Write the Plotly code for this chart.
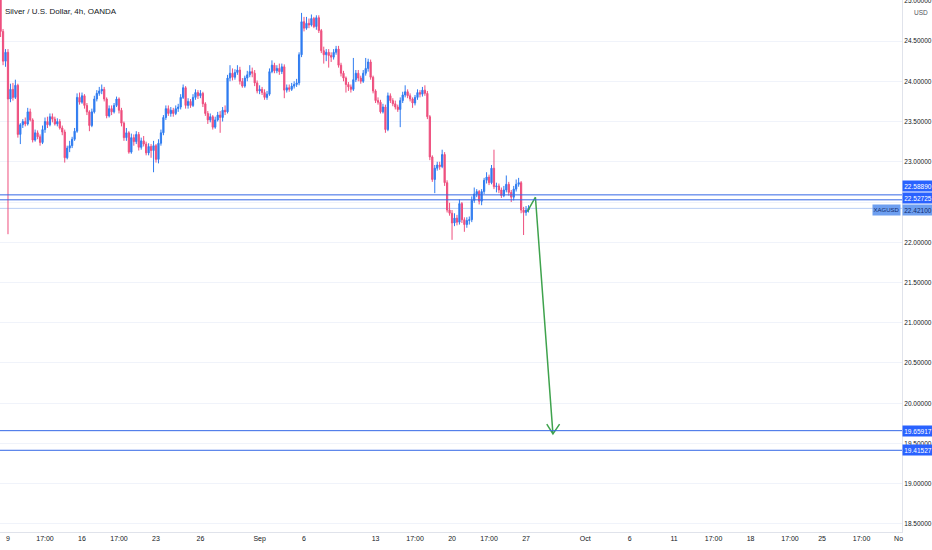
import plotly.graph_objects as go

# XAGUSD 4h candles (bar 0 = Mon Aug 9, weekends skipped)
bar_index = list(range(-3, 212))

opens = [
    25.10, 24.62, 24.25, 24.36, 23.78, 23.90, 23.80, 23.95, 23.34, 23.46,
    23.50, 23.47, 23.62, 23.52, 23.27, 23.36, 23.31, 23.24, 23.40, 23.50,
    23.46, 23.56, 23.53, 23.47, 23.50, 23.42, 23.37, 23.05, 23.17, 23.20,
    23.28, 23.38, 23.80, 23.74, 23.82, 23.70, 23.62, 23.45, 23.62, 23.78,
    23.85, 23.88, 23.90, 23.78, 23.57, 23.66, 23.62, 23.70, 23.78, 23.64,
    23.48, 23.30, 23.36, 23.12, 23.30, 23.25, 23.34, 23.18, 23.26, 23.22,
    23.11, 23.19, 23.14, 23.20, 23.03, 23.23, 23.36, 23.55, 23.66, 23.60,
    23.64, 23.60, 23.66, 23.68, 23.80, 23.92, 23.70, 23.75, 23.70, 23.80,
    23.86, 23.82, 23.85, 23.72, 23.60, 23.52, 23.56, 23.43, 23.52, 23.58,
    23.55, 23.64, 23.62, 24.04, 24.10, 24.05, 24.11, 24.14, 24.00, 23.94,
    24.04, 24.08, 24.12, 24.10, 23.98, 23.88, 23.90, 23.86, 23.80, 23.84,
    24.12, 24.20, 24.13, 24.16, 24.12, 24.18, 23.89, 23.92, 23.90, 23.94,
    23.96, 23.98, 24.33, 24.74, 24.66, 24.72, 24.70, 24.78, 24.68, 24.79,
    24.63, 24.38, 24.33, 24.36, 24.32, 24.30, 24.36, 24.40, 24.20, 24.10,
    24.04, 23.96, 23.93, 23.90, 24.02, 24.10, 24.04, 24.00, 24.10, 24.16,
    24.24, 24.05, 23.88, 23.76, 23.74, 23.62, 23.68, 23.40, 23.82, 23.76,
    23.72, 23.68, 23.65, 23.76, 23.83, 23.87, 23.82, 23.78, 23.73, 23.80,
    23.86, 23.84, 23.89, 23.85, 23.56, 23.06, 22.78, 22.92, 22.96, 22.94,
    23.09, 22.74, 22.40, 22.36, 22.24, 22.30, 22.25, 22.48, 22.28, 22.22,
    22.27, 22.28, 22.52, 22.60, 22.63, 22.51, 22.63, 22.77, 22.81, 22.74,
    22.92, 22.69, 22.70, 22.65, 22.58, 22.65, 22.72, 22.62, 22.56, 22.66,
    22.72, 22.74, 22.40, 22.37, 22.40,
]
highs = [
    25.15, 24.65, 24.40, 24.40, 23.97, 23.98, 24.02, 23.97, 23.48, 23.53,
    23.55, 23.67, 23.66, 23.54, 23.40, 23.39, 23.34, 23.45, 23.55, 23.56,
    23.60, 23.60, 23.56, 23.54, 23.53, 23.45, 23.40, 23.20, 23.26, 23.31,
    23.42, 23.85, 23.86, 23.86, 23.84, 23.73, 23.64, 23.66, 23.82, 23.89,
    23.93, 23.96, 23.93, 23.80, 23.70, 23.70, 23.73, 23.81, 23.80, 23.67,
    23.50, 23.42, 23.38, 23.35, 23.34, 23.38, 23.37, 23.30, 23.32, 23.25,
    23.23, 23.22, 23.26, 23.22, 23.28, 23.40, 23.58, 23.70, 23.70, 23.68,
    23.67, 23.70, 23.72, 23.84, 23.96, 23.94, 23.79, 23.78, 23.84, 23.90,
    23.89, 23.89, 23.87, 23.74, 23.63, 23.60, 23.58, 23.56, 23.62, 23.63,
    23.68, 23.70, 24.08, 24.20, 24.16, 24.15, 24.20, 24.18, 24.04, 24.07,
    24.13, 24.20, 24.17, 24.14, 24.01, 23.95, 23.93, 23.90, 23.88, 24.16,
    24.26, 24.23, 24.20, 24.22, 24.22, 24.21, 23.96, 23.96, 23.98, 24.00,
    24.03, 24.36, 24.85, 24.80, 24.80, 24.78, 24.83, 24.80, 24.82, 24.82,
    24.65, 24.43, 24.40, 24.40, 24.36, 24.40, 24.44, 24.44, 24.23, 24.13,
    24.06, 23.99, 23.96, 24.29, 24.14, 24.14, 24.07, 24.14, 24.29, 24.28,
    24.27, 24.07, 23.90, 23.80, 23.77, 23.72, 23.71, 23.86, 23.85, 23.79,
    23.76, 23.71, 23.80, 23.87, 23.95, 23.90, 23.85, 23.80, 23.83, 23.90,
    23.89, 23.93, 23.95, 23.88, 23.58, 23.08, 22.96, 23.00, 23.00, 23.15,
    23.12, 22.77, 22.49, 22.40, 22.36, 22.34, 22.53, 22.50, 22.31, 22.31,
    22.32, 22.57, 22.68, 22.66, 22.65, 22.66, 22.80, 22.87, 22.84, 22.96,
    23.15, 22.74, 22.73, 22.68, 22.70, 22.83, 22.75, 22.65, 22.70, 22.78,
    22.80, 22.76, 22.44, 22.45, 22.46,
]
lows = [
    24.55, 24.20, 24.18, 22.10, 23.74, 23.76, 23.78, 23.30, 23.22, 23.42,
    23.44, 23.45, 23.50, 23.24, 23.25, 23.28, 23.20, 23.22, 23.36, 23.42,
    23.44, 23.49, 23.45, 23.44, 23.40, 23.33, 22.99, 23.03, 23.12, 23.17,
    23.26, 23.36, 23.71, 23.72, 23.66, 23.58, 23.38, 23.43, 23.60, 23.75,
    23.82, 23.84, 23.75, 23.54, 23.55, 23.58, 23.60, 23.68, 23.60, 23.44,
    23.26, 23.26, 23.10, 23.10, 23.20, 23.22, 23.14, 23.15, 23.19, 23.08,
    23.08, 23.05, 22.87, 22.99, 22.98, 23.20, 23.33, 23.52, 23.57, 23.56,
    23.56, 23.58, 23.62, 23.65, 23.78, 23.66, 23.66, 23.67, 23.68, 23.77,
    23.78, 23.79, 23.68, 23.57, 23.47, 23.49, 23.40, 23.41, 23.50, 23.36,
    23.50, 23.58, 23.60, 24.00, 24.01, 24.02, 24.08, 23.96, 23.92, 23.92,
    24.00, 24.05, 24.05, 23.94, 23.85, 23.84, 23.83, 23.77, 23.77, 23.82,
    24.10, 24.10, 24.10, 24.08, 24.09, 23.79, 23.86, 23.87, 23.88, 23.91,
    23.93, 23.95, 24.30, 24.62, 24.64, 24.66, 24.68, 24.66, 24.64, 24.60,
    24.35, 24.22, 24.25, 24.17, 24.24, 24.27, 24.33, 24.17, 24.06, 24.00,
    23.86, 23.88, 23.86, 23.88, 23.99, 24.00, 23.97, 23.98, 24.07, 24.12,
    24.02, 23.85, 23.73, 23.71, 23.60, 23.60, 23.36, 23.38, 23.73, 23.69,
    23.65, 23.62, 23.43, 23.73, 23.80, 23.79, 23.75, 23.67, 23.70, 23.77,
    23.80, 23.81, 23.82, 23.53, 23.02, 22.75, 22.61, 22.89, 22.90, 22.92,
    22.70, 22.37, 22.33, 22.03, 22.20, 22.21, 22.22, 22.24, 22.13, 22.18,
    22.22, 22.25, 22.49, 22.56, 22.47, 22.46, 22.60, 22.73, 22.71, 22.72,
    22.66, 22.62, 22.61, 22.55, 22.56, 22.62, 22.58, 22.50, 22.52, 22.63,
    22.69, 22.36, 22.09, 22.33, 22.37,
]
closes = [
    24.62, 24.25, 24.36, 23.78, 23.90, 23.80, 23.95, 23.34, 23.46, 23.50,
    23.47, 23.62, 23.52, 23.27, 23.36, 23.31, 23.24, 23.40, 23.50, 23.46,
    23.56, 23.53, 23.47, 23.50, 23.42, 23.37, 23.05, 23.17, 23.20, 23.28,
    23.38, 23.80, 23.74, 23.82, 23.70, 23.62, 23.45, 23.62, 23.78, 23.85,
    23.88, 23.90, 23.78, 23.57, 23.66, 23.62, 23.70, 23.78, 23.64, 23.48,
    23.30, 23.36, 23.12, 23.30, 23.25, 23.34, 23.18, 23.26, 23.22, 23.11,
    23.19, 23.14, 23.20, 23.03, 23.23, 23.36, 23.55, 23.66, 23.60, 23.64,
    23.60, 23.66, 23.68, 23.80, 23.92, 23.70, 23.75, 23.70, 23.80, 23.86,
    23.82, 23.85, 23.72, 23.60, 23.52, 23.56, 23.43, 23.52, 23.58, 23.55,
    23.64, 23.62, 24.04, 24.10, 24.05, 24.11, 24.14, 24.00, 23.94, 24.04,
    24.08, 24.12, 24.10, 23.98, 23.88, 23.90, 23.86, 23.80, 23.84, 24.12,
    24.20, 24.13, 24.16, 24.12, 24.18, 23.89, 23.92, 23.90, 23.94, 23.96,
    23.98, 24.33, 24.74, 24.66, 24.72, 24.70, 24.78, 24.68, 24.79, 24.63,
    24.38, 24.33, 24.36, 24.32, 24.30, 24.36, 24.40, 24.20, 24.10, 24.04,
    23.96, 23.93, 23.90, 24.02, 24.10, 24.04, 24.00, 24.10, 24.16, 24.24,
    24.05, 23.88, 23.76, 23.74, 23.62, 23.68, 23.40, 23.82, 23.76, 23.72,
    23.68, 23.65, 23.76, 23.83, 23.87, 23.82, 23.78, 23.73, 23.80, 23.86,
    23.84, 23.89, 23.85, 23.56, 23.06, 22.78, 22.92, 22.96, 22.94, 23.09,
    22.74, 22.40, 22.36, 22.24, 22.30, 22.25, 22.48, 22.28, 22.22, 22.27,
    22.28, 22.52, 22.60, 22.63, 22.51, 22.63, 22.77, 22.81, 22.74, 22.92,
    22.69, 22.70, 22.65, 22.58, 22.65, 22.72, 22.62, 22.56, 22.66, 22.72,
    22.74, 22.40, 22.37, 22.40, 22.42,
]

# horizontal levels drawn on the chart
level_prices = [22.58890, 22.52725, 19.65917, 19.41527]
level_shift = [9, 2, 0, 0]  # label stacking offsets, px
last_price = 22.42100

# projected move (green arrow)
arrow_bars = [210.5, 213.8, 220.9]
arrow_prices = [22.38, 22.56, 19.62]
head_bars = [218.4, 220.9, 223.6]
head_prices = [19.74, 19.62, 19.74]

price_ticks = [18.5, 19.0, 19.5, 20.0, 20.5, 21.0, 21.5, 22.0, 22.5,
               23.0, 23.5, 24.0, 24.5, 25.0]
# 22.5 label sits under the level price tags in the original
price_tick_text = ["18.50000", "19.00000", "19.50000", "20.00000", "20.50000",
                   "21.00000", "21.50000", "22.00000", "", "23.00000",
                   "23.50000", "24.00000", "24.50000", "25.00000"]
time_tick_bars = [0, 15, 30, 45, 60, 78, 102, 120, 149, 165, 180, 195, 210,
                  234, 252, 270, 286, 301, 317, 330, 346, 361]
time_tick_text = ["9", "17:00", "16", "17:00", "23", "26", "Sep", "6", "13",
                  "17:00", "20", "17:00", "27", "Oct", "6", "11", "17:00",
                  "18", "17:00", "25", "17:00", "No"]

UP = "#2F7CF0"
DOWN = "#EE4F7E"
LEVEL = "#3568E6"
FONT = "Liberation Sans, Arial, sans-serif"

fig = go.Figure()

fig.add_trace(go.Candlestick(
    x=bar_index, open=opens, high=highs, low=lows, close=closes,
    increasing=dict(line=dict(color=UP, width=1), fillcolor=UP),
    decreasing=dict(line=dict(color=DOWN, width=1), fillcolor=DOWN),
    whiskerwidth=0, showlegend=False, hoverinfo="skip",
))

# last price line
fig.add_hline(y=last_price, line=dict(color="#B9CFF5", width=1), layer="below")
for p in level_prices:
    fig.add_hline(y=p, line=dict(color=LEVEL, width=1))

fig.add_trace(go.Scatter(x=arrow_bars, y=arrow_prices, mode="lines",
                         line=dict(color="#3FA34D", width=1.5),
                         showlegend=False, hoverinfo="skip"))
fig.add_trace(go.Scatter(x=head_bars, y=head_prices, mode="lines",
                         line=dict(color="#3FA34D", width=1.5),
                         showlegend=False, hoverinfo="skip"))

for p, s in zip(level_prices, level_shift):
    fig.add_annotation(x=1, xref="paper", y=p, yref="y", yshift=s,
                       text=f"{p:.5f}", showarrow=False, xanchor="left",
                       width=30, height=10, borderpad=0, bgcolor="#2962FF",
                       font=dict(color="white", size=6.5, family=FONT))

fig.add_annotation(x=1, xref="paper", y=last_price, yref="y", yshift=-2,
                   text=f"{last_price:.5f}", showarrow=False, xanchor="left",
                   width=30, height=10, borderpad=0, bgcolor="#6E9FF0",
                   font=dict(color="#0E2B6E", size=6.5, family=FONT))
fig.add_annotation(x=1, xref="paper", y=last_price, yref="y", yshift=-2,
                   xshift=-1, text="XAGUSD", showarrow=False, xanchor="right",
                   width=27, height=10, borderpad=0, bgcolor="#6E9FF0",
                   font=dict(color="#0E2B6E", size=6, family=FONT))

fig.add_annotation(x=0, xref="paper", y=1, yref="paper", xshift=3, yshift=-5,
                   text="Silver / U.S. Dollar, 4h, OANDA", showarrow=False,
                   xanchor="left", yanchor="top",
                   font=dict(color="#131722", size=8, family=FONT))
fig.add_annotation(x=1, xref="paper", y=1, yref="paper", xshift=10, yshift=-7,
                   text="USD", showarrow=False, xanchor="left", yanchor="top",
                   font=dict(color="#50535E", size=6.5, family=FONT))

fig.update_layout(
    width=932, height=550,
    margin=dict(l=0, r=30, t=0, b=18, autoexpand=False),
    paper_bgcolor="white", plot_bgcolor="white",
    font=dict(family=FONT, size=7, color="#131722"),
    xaxis=dict(
        range=[-3.24, 362.4], rangeslider=dict(visible=False),
        tickmode="array", tickvals=time_tick_bars, ticktext=time_tick_text,
        showgrid=False, zeroline=False, showline=True, linecolor="#E0E3EB",
        ticks="", automargin=False, tickfont=dict(size=7, color="#131722"),
    ),
    yaxis=dict(
        side="right", range=[18.40, 25.01],
        tickmode="array", tickvals=price_ticks, ticktext=price_tick_text,
        showgrid=True, gridcolor="#F0F3FA", zeroline=False,
        showline=True, linecolor="#E0E3EB", ticks="", automargin=False,
        ticklabeloverflow="allow",
        tickfont=dict(size=6.5, color="#131722"),
    ),
)

# page body has a default 8px margin; drop it so the figure sits at 0,0
fig.write_html("out.html", config={"displayModeBar": False},
               post_script="document.body.style.margin='0';")
